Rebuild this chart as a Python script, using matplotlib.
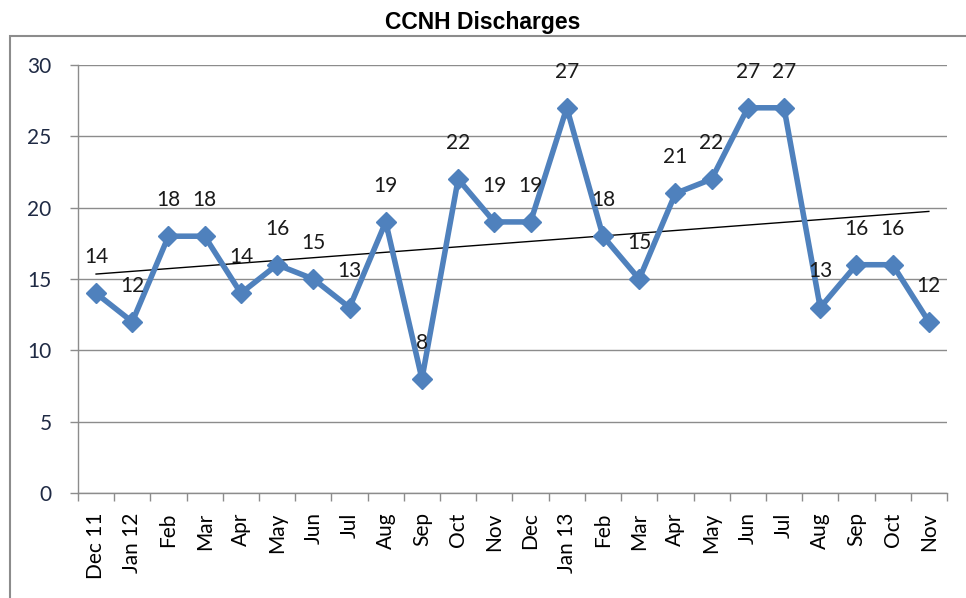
import numpy as np
import matplotlib
matplotlib.use("Agg")
import matplotlib.pyplot as plt
from matplotlib.patches import Rectangle

months = ["Dec 11", "Jan 12", "Feb", "Mar", "Apr", "May", "Jun", "Jul", "Aug", "Sep",
          "Oct", "Nov", "Dec", "Jan 13", "Feb", "Mar", "Apr", "May", "Jun", "Jul",
          "Aug", "Sep", "Oct", "Nov"]
discharges = [14, 12, 18, 18, 14, 16, 15, 13, 19, 8,
              22, 19, 19, 27, 18, 15, 21, 22, 27, 27,
              13, 16, 16, 12]
y_ticks = [0, 5, 10, 15, 20, 25, 30]

label_font = ["Lato", "DejaVu Sans"]
blue = "#4F81BD"
grey = "#8C8C8C"

fig = plt.figure(figsize=(9.66, 5.98), dpi=100)

# outer chart border (Excel style)
fig.patches.append(Rectangle((10 / 966, -0.05), 1.0, 0.99, transform=fig.transFigure,
                             fill=False, edgecolor=grey, linewidth=1.5))

fig.text(0.5, 0.962, "CCNH Discharges", ha="center", va="center",
         fontsize=16.5, fontweight="bold", family="Liberation Sans")

ax = fig.add_axes([0.0807, 0.1756, 0.8996, 0.7157])
x = np.arange(len(discharges))

# trendline
k, b = np.polyfit(x, discharges, 1)
ax.plot([x[0], x[-1]], [k * x[0] + b, k * x[-1] + b], color="black", linewidth=1, zorder=2)

ax.plot(x, discharges, color=blue, linewidth=4, marker="D", markersize=10,
        markerfacecolor=blue, markeredgecolor=blue, zorder=3)

for xi, v in zip(x, discharges):
    ax.annotate(str(v), (xi, v), xytext=(0, 26), textcoords="offset points",
                ha="center", va="center", fontsize=15, family=label_font, color="#1a1a1a")

ax.set_xlim(-0.5, len(discharges) - 0.5)
ax.set_ylim(0, 30)
ax.set_yticks(y_ticks)
ax.set_yticklabels([str(t) for t in y_ticks], family=label_font, fontsize=15, color="#1f2a44")
ax.yaxis.grid(True, color=grey, linewidth=1)
ax.set_axisbelow(True)

ax.set_xticks(np.arange(-0.5, len(discharges), 1))
ax.set_xticklabels([])
ax.set_xticks(x, minor=True)
ax.set_xticklabels(months, minor=True, rotation=90, family=label_font, fontsize=15)
ax.tick_params(axis="x", which="major", length=6, color=grey, width=1)
ax.tick_params(axis="x", which="minor", length=0, pad=14)
ax.tick_params(axis="y", length=6, color=grey, width=1, pad=13)

for side in ["top", "right"]:
    ax.spines[side].set_visible(False)
for side in ["left", "bottom"]:
    ax.spines[side].set_color(grey)
    ax.spines[side].set_linewidth(1)

plt.savefig("out.png", dpi=100)
